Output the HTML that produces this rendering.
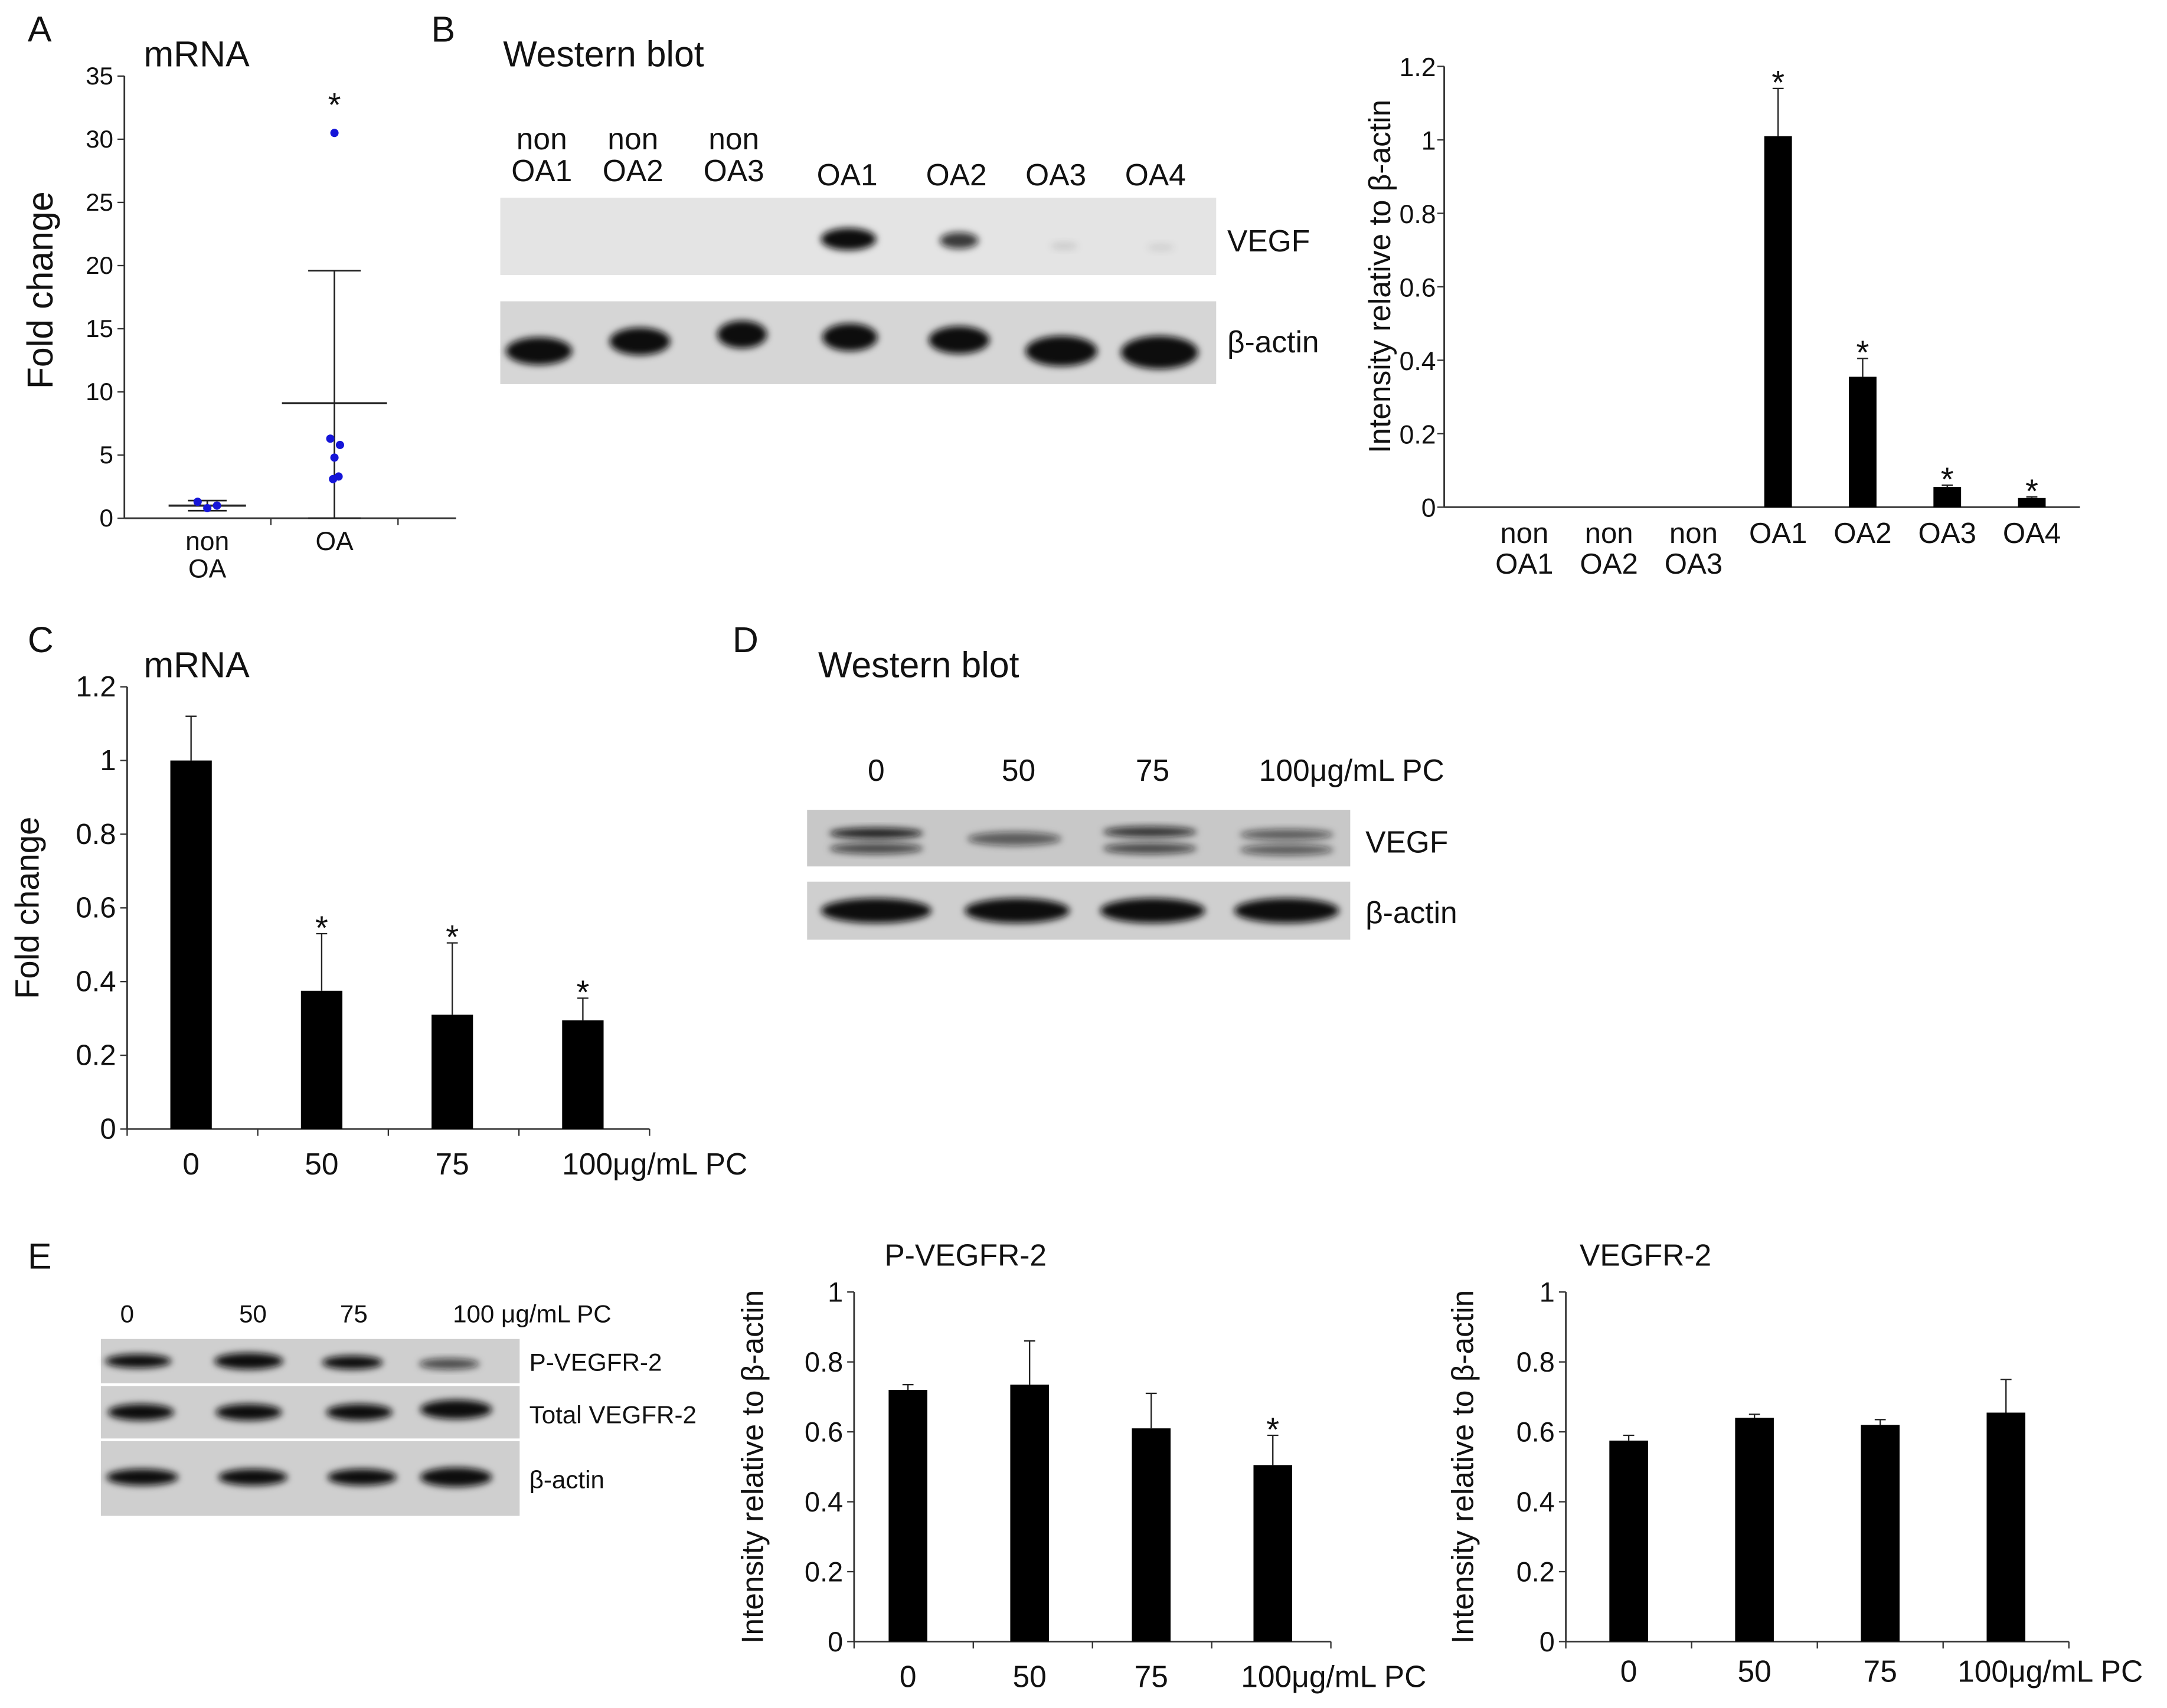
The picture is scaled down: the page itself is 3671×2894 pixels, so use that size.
<!DOCTYPE html>
<html><head><meta charset="utf-8"><style>
html,body{margin:0;padding:0;background:#fff;}
svg{display:block;font-family:"Liberation Sans",Arial,sans-serif;}
</style></head><body>
<svg id="fig" width="3671" height="2894" viewBox="0 0 1568 1236" xmlns="http://www.w3.org/2000/svg">
<defs>
<filter id="blur" x="-50%" y="-50%" width="200%" height="200%"><feGaussianBlur stdDeviation="2.5"/></filter>
</defs>
<g id="root"></g>
</svg>
<script>
// ---------- data ----------
const aCats = ["non\nOA", "OA"];
const aNonOA = [1.3, 0.8, 1.0];
const aOA = [30.5, 6.3, 5.8, 4.8, 3.3, 3.1];
const aMeans = [1.0, 9.1];
const aSdHi = [1.4, 19.6];
const aSdLo = [0.6, 0.0];
const aTicks = [0,5,10,15,20,25,30,35];

const bCats = ["non\nOA1","non\nOA2","non\nOA3","OA1","OA2","OA3","OA4"];
const bVals = [0,0,0,1.01,0.355,0.055,0.025];
const bErr = [0,0,0,0.13,0.05,0.005,0.003];
const bSig = [false,false,false,true,true,true,true];
const bTicks = [0,0.2,0.4,0.6,0.8,1,1.2];
const bTickLabels = ["0","0.2","0.4","0.6","0.8","1","1.2"];

const cCats = ["0","50","75","100μg/mL PC"];
const cVals = [1.0,0.375,0.31,0.295];
const cErr = [0.12,0.155,0.195,0.06];
const cSig = [false,true,true,true];
const cTicks = [0,0.2,0.4,0.6,0.8,1,1.2];
const cTickLabels = ["0","0.2","0.4","0.6","0.8","1","1.2"];

const e1Cats = ["0","50","75","100μg/mL PC"];
const e1Vals = [0.72,0.735,0.61,0.505];
const e1Err = [0.015,0.125,0.1,0.085];
const e1Sig = [false,false,false,true];
const e2Cats = ["0","50","75","100μg/mL PC"];
const e2Vals = [0.575,0.64,0.62,0.655];
const e2Err = [0.015,0.01,0.015,0.095];
const e2Sig = [false,false,false,false];
const eTicks = [0,0.2,0.4,0.6,0.8,1];
const eTickLabels = ["0","0.2","0.4","0.6","0.8","1"];

// ---------- helpers ----------
const NS="http://www.w3.org/2000/svg";
const root=document.getElementById('root');
function mk(tag, attrs, parent){const e=document.createElementNS(NS,tag);for(const k in attrs)e.setAttribute(k,attrs[k]);(parent||root).appendChild(e);return e;}
function txt(x,y,s,size,parent,anchor){
  const lines=s.split("\n");const t=mk('text',{x:x,y:y,'font-size':size,'text-anchor':anchor||'middle',fill:'#111'},parent);
  lines.forEach((l,i)=>{const ts=mk('tspan',{x:x,dy:i?size*1.05:0},t);ts.textContent=l;});return t;}
function scaleY(y0,y1,v0,v1){return v=>y0+(v-v0)*(y1-y0)/(v1-v0);}

function barChart(o){
  const g=mk('g',{});
  
  
  const y=scaleY(o.yBottom,o.yTop,0,o.yMax);
  const ax=mk('line',{x1:o.axX,y1:o.yTop,x2:o.axX,y2:o.yBottom,stroke:'#333','stroke-width':1.2},g);
  
  const xa=mk('line',{x1:o.axX,y1:o.yBottom,x2:o.axEnd,y2:o.yBottom,stroke:'#333','stroke-width':1.2},g);
  
  const tg=o.tickGap||8;
  o.ticks.forEach((t,i)=>{const yy=y(t);mk('line',{x1:o.axX-5,y1:yy,x2:o.axX,y2:yy,stroke:'#333'},g);
    const l=txt(o.axX-tg,yy+7,o.tickLabels[i],o.tickSize||20,g,'end');
    });
  const n=o.vals.length;const step=(o.axEnd-o.axX)/n;
  if(o.catTicks){for(let i=0;i<=n;i++){mk('line',{x1:o.axX+step*i,y1:o.yBottom,x2:o.axX+step*i,y2:o.yBottom+5,stroke:'#333'},g);}}
  const bstep=o.barStep||step;
  o.vals.forEach((v,i)=>{
    const cx=(o.firstCx!==undefined)?o.firstCx+bstep*i:o.axX+step*(i+0.5)+(o.shift||0);
    if(v>0){const r=mk('rect',{x:cx-o.bw/2,y:y(v),width:o.bw,height:o.yBottom-y(v),fill:'#000'},g);
      }
    if(o.err[i]>0){mk('line',{x1:cx,y1:y(v),x2:cx,y2:y(v+o.err[i]),stroke:'#222','stroke-width':1},g);
      mk('line',{x1:cx-4,y1:y(v+o.err[i]),x2:cx+4,y2:y(v+o.err[i]),stroke:'#222','stroke-width':1},g);}
    if(o.sig[i]){const s=txt(cx,y(v+o.err[i])+4,'*',24,g);}
    const lbl=txt(cx+(o.labShift?o.labShift[i]:0),o.labY,o.cats[i],o.labSize||22,g);
    
  });
  const yc=o.ytY||(o.yTop+o.yBottom)/2;
  const yt=mk('text',{x:0,y:0,'font-size':o.ytSize||24,'text-anchor':'middle',fill:'#111',transform:`translate(${o.ytX},${yc}) rotate(-90)`},g);
  yt.textContent=o.yTitle;
  return g;
}

function blotStrip(name,x,y,w,h,bg,bands){
  const g=mk('g',{});
  mk('rect',{x:x,y:y,width:w,height:h,fill:bg},g);
  bands.forEach(b=>{mk('ellipse',{cx:b[0],cy:b[1],rx:b[2],ry:b[3],fill:'#111','fill-opacity':b[4],filter:'url(#blur)'},g);});
  return g;
}

// ---------- Panel letters / titles ----------
[["A",20,30],["B",312,30],["C",20,472],["D",530,472],["E",20,918]].forEach(p=>{const t=txt(p[1],p[2],p[0],26,root,'start');});
[["mRNA",104,48],["Western blot",364,48],["mRNA",104,490],["Western blot",592,490]].forEach((p,i)=>{const t=txt(p[1],p[2],p[0],26,root,'start');});

// ---------- Panel A scatter ----------
(function(){
  const g=mk('g',{});
  const y=scaleY(375,55,0,35);const ax=90,axEnd=330;const cx=[150,242];
  mk('line',{x1:ax,y1:55,x2:ax,y2:375,stroke:'#333','stroke-width':1.2},g);
  mk('line',{x1:ax,y1:375,x2:axEnd,y2:375,stroke:'#333','stroke-width':1.2},g);
  aTicks.forEach(t=>{mk('line',{x1:ax-5,y1:y(t),x2:ax,y2:y(t),stroke:'#333'},g);const l=txt(ax-8,y(t)+6,String(t),18,g,'end');});
  [196,288].forEach(xx=>mk('line',{x1:xx,y1:375,x2:xx,y2:380,stroke:'#333'},g));
  aCats.forEach((c,i)=>{const l=txt(cx[i],398,c,19,g);});
  const wid=[28,38];
  aMeans.forEach((m,i)=>{mk('line',{x1:cx[i]-wid[i],y1:y(m),x2:cx[i]+wid[i],y2:y(m),stroke:'#222','stroke-width':1.5},g);
    mk('line',{x1:cx[i],y1:y(aSdLo[i]),x2:cx[i],y2:y(aSdHi[i]),stroke:'#222','stroke-width':1.2},g);
    mk('line',{x1:cx[i]-wid[i]/2,y1:y(aSdHi[i]),x2:cx[i]+wid[i]/2,y2:y(aSdHi[i]),stroke:'#222','stroke-width':1.2},g);
    mk('line',{x1:cx[i]-wid[i]/2,y1:y(aSdLo[i]),x2:cx[i]+wid[i]/2,y2:y(aSdLo[i]),stroke:'#222','stroke-width':1.2},g);});
  const offN=[-7,0,7];aNonOA.forEach((v,i)=>{const p=mk('circle',{cx:cx[0]+offN[i],cy:y(v),r:3,fill:'#1515d8'},g);});
  const offO=[0,-3,4,0,3,-1];aOA.forEach((v,i)=>{const p=mk('circle',{cx:cx[1]+offO[i],cy:y(v),r:3,fill:'#1515d8'},g);});
  const s=txt(cx[1],y(aOA[0])-12,'*',24,g);
  const yt=mk('text',{'font-size':26,'text-anchor':'middle',fill:'#111',transform:'translate(38,210) rotate(-90)'},g);yt.textContent='Fold change';
  
})();

// ---------- Panel B blot ----------
[["non\nOA1",392],["non\nOA2",458],["non\nOA3",531],["OA1",613],["OA2",692],["OA3",764],["OA4",836]].forEach(l=>{const t=txt(l[1],l[0].includes("\n")?108:134,l[0],22,root);});
blotStrip('blot-b-vegf',362,143,518,56,'#e4e4e4',[[614,173,20,8,1],[694,174,14,6,0.8],[770,178,10,3,0.1],[840,179,10,3,0.08]]);
blotStrip('blot-b-actin',362,218,518,60,'#d6d6d6',[[390,254,24,10,1],[463,247,22,10,1],[537,242,18,10,1],[615,244,20,10,1],[694,246,22,10,1],[768,254,26,11,1],[839,255,28,12,1]]);
[["VEGF",888,182],["β-actin",888,255]].forEach(l=>{const t=txt(l[1],l[2],l[0],22,root,'start');});

// ---------- Panel B chart ----------
barChart({name:'bar-chart-b',axX:1045,axEnd:1505,yTop:48,yBottom:367,yMax:1.2,ticks:bTicks,tickLabels:bTickLabels,vals:bVals,err:bErr,sig:bSig,cats:bCats,bw:20,labY:393,labSize:21,yTitle:'Intensity relative to β-actin',ytX:1006,ytY:200,ytSize:22,catTicks:false,firstCx:1103,barStep:61.2,tickSize:19,tickGap:6});

// ---------- Panel C chart ----------
barChart({name:'bar-chart-c',axX:92,axEnd:470,yTop:497,yBottom:817,yMax:1.2,ticks:cTicks,tickLabels:cTickLabels,vals:cVals,err:cErr,sig:cSig,cats:cCats,bw:30,labY:850,labShift:[0,0,0,52],yTitle:'Fold change',ytX:28,ytSize:24,catTicks:true,shift:-1,tickSize:21});

// ---------- Panel D blot ----------
[["0",634],["50",737],["75",834],["100μg/mL PC",978]].forEach(l=>{const t=txt(l[1],565,l[0],22,root);});
blotStrip('blot-d-vegf',584,586,393,41,'#c8c8c8',[[634,603,34,4,0.9],[634,614,34,4,0.7],[734,607,34,5,0.6],[832,602,34,4,0.8],[832,614,34,4,0.7],[931,604,34,4,0.6],[931,615,34,4,0.6]]);
blotStrip('blot-d-actin',584,638,393,42,'#cfcfcf',[[634,659,40,9,1],[736,659,38,9,1],[834,659,38,9,1],[931,659,38,9,1]]);
[["VEGF",988,617],["β-actin",988,668]].forEach(l=>{const t=txt(l[1],l[2],l[0],22,root,'start');});

// ---------- Panel E blot ----------
[["0",92],["50",183],["75",256],["100 μg/mL PC",385]].forEach(l=>{const t=txt(l[1],957,l[0],18,root);});
blotStrip('blot-e-pvegfr2',73,969,303,32,'#cfcfcf',[[100,985,24,5,1],[180,985,25,6,1],[255,986,22,5,1],[325,987,22,4,0.7]]);
blotStrip('blot-e-total',73,1003,303,38,'#cfcfcf',[[102,1022,24,6,1],[180,1022,24,6,1],[260,1022,24,6,1],[330,1020,26,7,1]]);
blotStrip('blot-e-actin',73,1043,303,54,'#cfcfcf',[[103,1069,26,6,1],[183,1069,25,6,1],[262,1069,25,6,1],[330,1069,26,7,1]]);
[["P-VEGFR-2",383,992],["Total VEGFR-2",383,1030],["β-actin",383,1077]].forEach(l=>{const t=txt(l[1],l[2],l[0],18,root,'start');});

// ---------- Panel E charts ----------
[["P-VEGFR-2",640,916],["VEGFR-2",1143,916]].forEach(l=>{const t=txt(l[1],l[2],l[0],22,root,'start');});
barChart({name:'bar-chart-e-pvegfr2',axX:618,axEnd:963,yTop:935,yBottom:1188,yMax:1,ticks:eTicks,tickLabels:eTickLabels,vals:e1Vals,err:e1Err,sig:e1Sig,cats:e1Cats,bw:28,labY:1221,labShift:[0,0,0,44],yTitle:'Intensity relative to β-actin',ytX:552,ytSize:22,catTicks:true,firstCx:657,barStep:88});
barChart({name:'bar-chart-e-vegfr2',axX:1133,axEnd:1497,yTop:935,yBottom:1188,yMax:1,ticks:eTicks,tickLabels:eTickLabels,vals:e2Vals,err:e2Err,sig:e2Sig,cats:e2Cats,bw:28,labY:1217,labShift:[0,0,0,32],yTitle:'Intensity relative to β-actin',ytX:1066,ytSize:22,catTicks:true,shift:0});
</script>
</body></html>
